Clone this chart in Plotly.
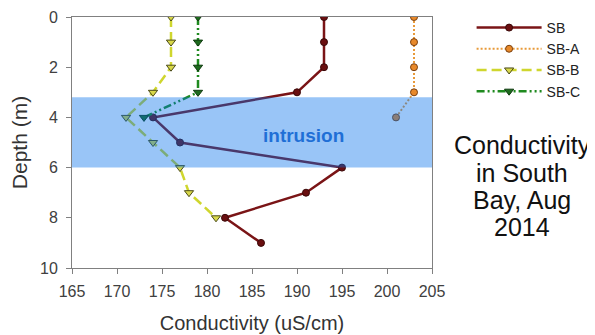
import plotly.graph_objects as go

# ---- data ----
depth_sb = [0, 1, 2, 3, 4, 5, 6, 7, 8, 9]
cond_sb = [193, 193, 193, 190, 174, 177, 195, 191, 182, 186]

depth_sba = [0, 1, 2, 3, 4]
cond_sba = [203, 203, 203, 203, 201]

depth_sbb = [0, 1, 2, 3, 4, 5, 6, 7, 8]
cond_sbb = [176, 176, 176, 174, 171, 174, 177, 178, 181]

depth_sbc = [0, 1, 2, 3, 4]
cond_sbc = [179, 179, 179, 179, 173]

intrusion_top, intrusion_bottom = 3.2, 6.0
x_ticks = [165, 170, 175, 180, 185, 190, 195, 200, 205]
y_ticks = [0, 2, 4, 6, 8, 10]
side_title = ["Conductivity", "in South", "Bay, Aug", "2014"]

FONT = "Liberation Sans, Arial, sans-serif"

fig = go.Figure()

fig.add_trace(go.Scatter(
    x=cond_sb, y=depth_sb, name="SB", mode="lines+markers",
    line=dict(color="#7a1416", width=2.5),
    marker=dict(symbol="circle", size=7, color="#6a0f10",
                line=dict(color="#3a0808", width=1))))
fig.add_trace(go.Scatter(
    x=cond_sba, y=depth_sba, name="SB-A", mode="lines+markers",
    line=dict(color="#e89a3a", width=2, dash="2px,2px"),
    marker=dict(symbol="circle", size=7, color="#e8892a",
                line=dict(color="#7a4010", width=1))))
fig.add_trace(go.Scatter(
    x=cond_sbb, y=depth_sbb, name="SB-B", mode="lines+markers",
    line=dict(color="#cfd62e", width=2.5, dash="10px,5px"),
    marker=dict(symbol="triangle-down", size=8, color="#d8d84a",
                line=dict(color="#4a4a18", width=1))))
fig.add_trace(go.Scatter(
    x=cond_sbc, y=depth_sbc, name="SB-C", mode="lines+markers",
    line=dict(color="#1f8a1f", width=2.5, dash="8px,3px,2px,3px,2px,3px"),
    marker=dict(symbol="triangle-down", size=8, color="#1e6b1e",
                line=dict(color="#0f3a0f", width=1))))

# translucent intrusion band drawn above the lines
fig.add_shape(type="rect", xref="paper", yref="y", x0=0, x1=1,
              y0=intrusion_top, y1=intrusion_bottom,
              fillcolor="rgba(0,110,235,0.4)", line=dict(width=0),
              layer="above")

fig.add_annotation(x=190.7, y=4.72, xref="x", yref="y",
                   text="<b>intrusion</b>", showarrow=False,
                   font=dict(family=FONT, size=19, color="#1f6fd6"))

ys = [0.49, 0.38, 0.272, 0.164]
for line, yy in zip(side_title, ys):
    fig.add_annotation(x=1.25, y=yy, xref="paper", yref="paper",
                       text=line, showarrow=False, xanchor="center",
                       yanchor="middle",
                       font=dict(family=FONT, size=25, color="#111111"))

fig.update_layout(
    width=595, height=335,
    margin=dict(l=64, r=171, t=9, b=75, autoexpand=False),
    paper_bgcolor="white", plot_bgcolor="white",
    font=dict(family=FONT, color="#333333"),
    showlegend=True,
    legend=dict(x=1.11, y=1.02, xanchor="left", yanchor="top",
                font=dict(family=FONT, size=14, color="#222222"),
                itemwidth=65, tracegroupgap=0,
                bgcolor="rgba(0,0,0,0)"),
    xaxis=dict(range=[165, 205], tickvals=x_ticks, automargin=False,
               ticks="outside", ticklen=5, tickcolor="#808080",
               showline=True, linecolor="#808080", linewidth=1, mirror=True,
               showgrid=False, zeroline=False, ticklabelstandoff=4,
               tickfont=dict(family=FONT, size=16, color="#404040"),
               title=dict(text="Conductivity (uS/cm)",
                          font=dict(family=FONT, size=20, color="#333333"),
                          standoff=16)),
    yaxis=dict(range=[10, 0], tickvals=y_ticks, automargin=False,
               ticks="outside", ticklen=5, tickcolor="#808080",
               showline=True, linecolor="#808080", linewidth=1, mirror=True,
               showgrid=False, zeroline=False, ticklabelstandoff=5,
               tickfont=dict(family=FONT, size=16, color="#404040"),
               title=dict(text="Depth (m)",
                          font=dict(family=FONT, size=21, color="#333333"),
                          standoff=10)),
)

fig.write_html("out.html")
